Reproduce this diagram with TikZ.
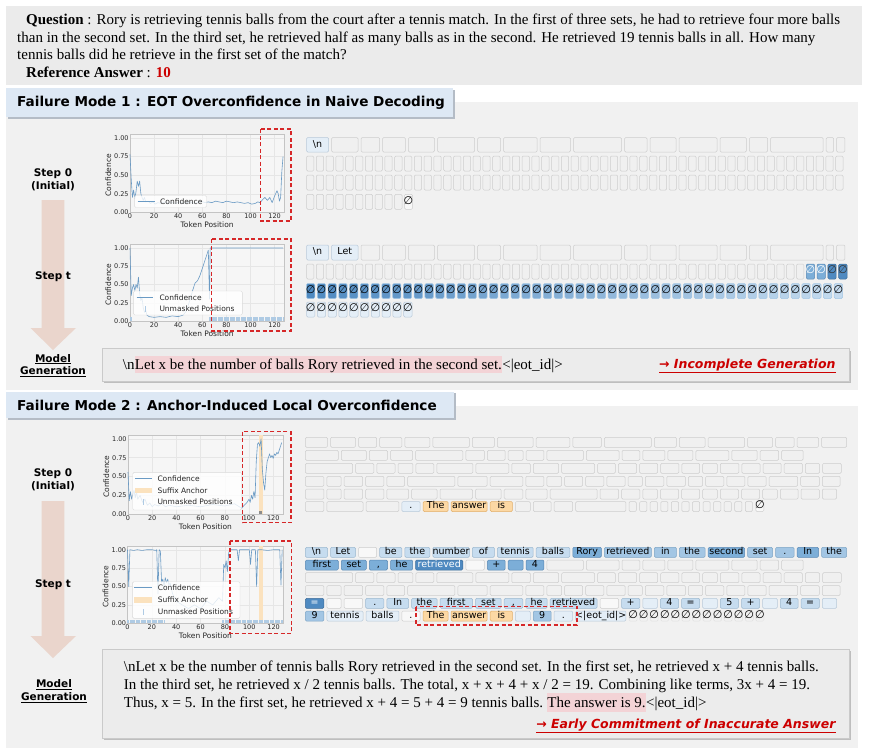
\documentclass[tikz,border=0pt]{standalone}
\usepackage{fontspec}
\setmainfont{Liberation Serif}
\newfontfamily\dejavu{DejaVu Sans}
\usetikzlibrary{positioning}

\definecolor{qbg}{HTML}{EBEBEB}
\definecolor{panelbg}{HTML}{F1F1F1}
\definecolor{headbg}{HTML}{DDE8F4}
\definecolor{headsh}{HTML}{B4BCC6}
\definecolor{arrowc}{HTML}{EAD5CC}
\definecolor{genbg}{HTML}{ECECEC}
\definecolor{genline}{HTML}{CACACA}
\definecolor{gensh}{HTML}{BEBEBE}
\definecolor{hlpink}{HTML}{F3D3D6}
\definecolor{ansred}{HTML}{CC0000}
\definecolor{boxred}{HTML}{D62728}
\definecolor{confblue}{HTML}{6A9AC4}
\definecolor{unmask}{HTML}{AFCBE4}
\definecolor{anchorc}{HTML}{FBE2BE}
\definecolor{axfill}{HTML}{F6F6F6}
\definecolor{axline}{HTML}{C4C4C4}
\definecolor{gridc}{HTML}{E6E6E6}
\definecolor{maskfill}{HTML}{F0F0F0}
\definecolor{maskline}{HTML}{CDCDCD}
\definecolor{tokA}{HTML}{E4EEF7}
\definecolor{tokB}{HTML}{C6DCEF}
\definecolor{tokC}{HTML}{A3C6E4}
\definecolor{tokD}{HTML}{7CAED8}
\definecolor{tokE}{HTML}{4F8AC1}
\definecolor{tokO}{HTML}{FCD8A4}
\definecolor{tokOl}{HTML}{E2AE68}

\tikzset{
  tok/.style={draw=maskline, fill=maskfill, line width=0.5pt, rounded corners=1.2pt,
    inner sep=0pt, outer sep=0pt, anchor=north west, text height=6.8pt, text depth=1.9pt,
    font=\dejavu\fontsize{9.5}{10}\selectfont},
  tkm/.style={},
  tkw/.style={fill=white!55!maskfill, draw=maskline},
  tka/.style={fill=tokA, draw=tokB!80!gray},
  tkb/.style={fill=tokB, draw=tokC!80!gray},
  tkc/.style={fill=tokC, draw=tokD!80!gray},
  tkd/.style={fill=tokD, draw=tokE!80!gray},
  tke/.style={fill=tokE, draw=tokE!80!black, text=white},
  tko/.style={fill=tokO, draw=tokOl},
  tkn/.style={fill=none, draw=maskline!60},
  gridl/.style={draw=gridc, line width=0.4pt},
  axbox/.style={draw=axline, line width=0.5pt},
  ticklab/.style={font=\dejavu\fontsize{6.5}{7}\selectfont, inner sep=1.2pt, text=black!85},
  axlab/.style={font=\dejavu\fontsize{7.5}{8}\selectfont, inner sep=0pt, text=black!85},
  confline/.style={draw=confblue, line width=0.6pt, line join=round},
  unmk/.style={draw=unmask, line width=0.7pt},
  redbox/.style={draw=boxred, line width=1.1pt, dash pattern=on 4pt off 2.5pt},
  legbox/.style={draw=black!15, fill=white, fill opacity=0.8, rounded corners=1.5pt, line width=0.4pt},
  legtxt/.style={font=\dejavu\fontsize{7.5}{8}\selectfont, anchor=west, inner sep=0pt, text=black!85},
  steplab/.style={font=\dejavu\bfseries\fontsize{10.5}{12.7}\selectfont, align=center, inner sep=0pt},
  headtxt/.style={font=\dejavu\bfseries\fontsize{13.6}{15}\selectfont, anchor=west, inner sep=0pt},
  qtxt/.style={font=\fontsize{15}{18}\selectfont, anchor=base west, inner sep=0pt},
  gtxt/.style={font=\fontsize{15}{18}\selectfont, anchor=base west, inner xsep=0pt, inner ysep=0pt,
    text height=12pt, text depth=2pt},
  hl/.style={gtxt, fill=hlpink, inner ysep=1.8pt},
  verdict/.style={font=\dejavu\bfseries\itshape\fontsize{12.5}{13}\selectfont, text=ansred, anchor=east, inner sep=0pt},
}

\newcommand{\tokgap}{3}
\newcommand{\tcomma}{,}
\newcommand{\nulltok}{{\fontsize{11}{11}\selectfont ∅}}

% one row of tokens: x0, top, height, {width/style/text,...}
\newcommand{\tokrow}[4]{%
  \foreach \tw/\ts/\tx [remember=\xn as \xo (initially #1),
      evaluate=\xo as \xn using \xo+\tw+\tokgap] in {#4}
    \node[tok, \ts, minimum width=\tw pt, minimum height=#3 pt] at (\xo,#2) {\makebox[0pt]{\tx}};%
}

% axes of one confidence plot, in data units
\newcommand{\confaxes}{%
  \fill[axfill] (0,0) rectangle (128,1.05);
  \foreach \gx in {0,20,...,120} \draw[gridl] (\gx,0) -- (\gx,1.05);
  \foreach \gy in {0.25,0.5,0.75,1} \draw[gridl] (0,\gy) -- (128,\gy);
  \draw[axbox] (0,0) rectangle (128,1.05);
  \foreach \gx in {0,20,...,120} \node[ticklab, anchor=north] at (\gx,0) {\gx};
  \foreach \gy/\gl in {0/0.00,0.25/0.25,0.5/0.50,0.75/0.75,1/1.00}
    \node[ticklab, anchor=east] at (0,\gy) {\gl};
  \node[axlab] at (64,-0.17) {Token Position};
  \node[axlab, rotate=90] at (-18,0.5) {Confidence};
}

\begin{document}
\begin{tikzpicture}[x=1pt, y=-1pt]
\useasboundingbox (0,0) rectangle (869,755);
\fill[white] (0,0) rectangle (869,755);

% question
\fill[qbg] (6,6) rectangle (862,85);
\node[qtxt] (q1) at (26,24) {\textbf{Question} : Rory is retrieving tennis balls from the court after a tennis match. In the first of three sets, he had to retrieve four more balls};
\node[qtxt] (q2) at (17,42) {than in the second set. In the third set, he retrieved half as many balls as in the second. He retrieved 19 tennis balls in all. How many};
\node[qtxt] (q3) at (17,59.5) {tennis balls did he retrieve in the first set of the match?};
\node[qtxt] (q4) at (26,77.5) {\textbf{Reference Answer} : \textcolor{ansred}{\textbf{10}}};

% ---------------- failure mode 1 ----------------
\fill[panelbg] (6,102) rectangle (858,390);
\fill[headsh] (7.5,89.5) rectangle (454.5,118.5);
\fill[headbg] (6,88) rectangle (453,117);
\node[headtxt] (fm1) at (17,103) {Failure Mode 1 : EOT Overconfidence in Naive Decoding};

\fill[arrowc] (41.7,200) -- (64.3,200) -- (64.3,328) -- (76,328) -- (53,350) -- (30.5,328) -- (41.7,328) -- cycle;
\node[steplab] (s10) at (53,179.5) {Step 0\\(Initial)};
\node[steplab] (s1t) at (53,276.7) {Step t};
\node[steplab] (m1) at (53,365.5) {\underline{Model}\\\underline{Generation}};

% step 0 plot
\begin{scope}[xshift=130pt, yshift=-212.3pt, x=1.205pt, y=74.3pt]
  \confaxes
  \draw[confline] plot coordinates {(0,0.78) (1,0.45) (2,0.2) (3,0.3) (4,0.18) (5,0.28) (6,0.42) (7,0.35)
    (8,0.42) (9,0.25) (10,0.2) (11,0.16) (12,0.2) (13,0.14) (15,0.15) (17,0.12) (19,0.14) (21,0.11)
    (23,0.13) (26,0.12) (29,0.14) (32,0.12) (35,0.13) (38,0.12) (41,0.14) (44,0.12) (47,0.13) (50,0.14)
    (53,0.12) (56,0.13) (59,0.15) (62,0.13) (65,0.14) (68,0.13) (71,0.15) (74,0.14) (77,0.13) (80,0.15)
    (83,0.14) (86,0.13) (89,0.14) (92,0.13) (95,0.12) (98,0.13) (101,0.11) (104,0.12) (106,0.14)
    (108,0.13) (110,0.17) (112,0.2) (114,0.16) (116,0.2) (118,0.13) (120,0.22) (122,0.29) (123,0.25)
    (124,0.15) (125,0.2) (126,0.55) (127,0.75)};
\end{scope}
\draw[legbox] (134.3,195.5) rectangle (206.7,207.5);
\draw[confline] (137.5,201.5) -- (155,201.5);
\node[legtxt] (l1a) at (160,201.5) {Confidence};
\draw[redbox] (260.7,129) rectangle (291,221);

% step t plot
\begin{scope}[xshift=130pt, yshift=-321pt, x=1.205pt, y=73pt]
  \confaxes
  \foreach \u in {0,1,66,67,...,127} \draw[unmk] (\u,0.005) -- (\u,0.05);
  \draw[confline] plot coordinates {(0,1.0) (1,0.35) (2,0.45) (3,0.5) (4,0.42) (5,0.5) (6,0.45) (7,0.6)
    (8,0.38) (9,0.28) (10,0.32) (11,0.18) (12,0.12) (13,0.15) (14,0.08) (16,0.06) (20,0.05) (25,0.06)
    (30,0.05) (35,0.07) (40,0.06) (44,0.08) (46,0.12) (48,0.2) (50,0.3) (52,0.42) (54,0.52) (56,0.55)
    (58,0.62) (60,0.72) (62,0.82) (64,0.92) (65,0.97) (66,0.3) (66.5,1.0) (127,1.0)};
\end{scope}
\draw[legbox] (133.3,291) rectangle (242.3,315);
\draw[confline] (136.7,297.3) -- (153.3,297.3);
\node[legtxt] (l2a) at (159.3,297.3) {Confidence};
\draw[unmk] (145,306) -- (145,312);
\node[legtxt] (l2b) at (159.3,309) {Unmasked Positions};
\draw[redbox] (211.7,239) rectangle (291,331);

% step 0 tokens
\tokrow{306.5}{137.5}{14.5}{22.1/tka/\textbackslash n, 26.4/tkm/{}, 18.6/tkm/{}, 22.8/tkm/{}, 26.1/tkm/{},
  37.2/tkm/{}, 22.8/tkm/{}, 33.6/tkm/{}, 30.4/tkm/{}, 48/tkm/{}, 22.5/tkm/{}, 26/tkm/{}, 38/tkm/{},
  26.4/tkm/{}, 18.2/tkm/{}, 52.6/tkm/{}, 7.4/tkm/{}, 8.3/tkm/{}}
\foreach \i in {0,...,54} {
  \node[tok, minimum width=7.3pt, minimum height=15pt] at (306.5+\i*9.8,156) {};
  \node[tok, minimum width=7.3pt, minimum height=15pt] at (306.5+\i*9.8,175) {};
}
\foreach \i in {0,...,9}
  \node[tok, minimum width=7.3pt, minimum height=15pt] at (306.5+\i*9.8,194.3) {};
\node[tok, tkw, minimum width=8pt, minimum height=15pt] (e1) at (404.5,194.3) {\makebox[0pt]{\nulltok}};

% step t tokens
\tokrow{306.5}{245}{15}{22.1/tka/\textbackslash n, 26.4/tka/Let, 18.6/tkm/{}, 22.8/tkm/{}, 26.1/tkm/{},
  37.2/tkm/{}, 22.8/tkm/{}, 33.6/tkm/{}, 30.4/tkm/{}, 48/tkm/{}, 22.5/tkm/{}, 26/tkm/{}, 38/tkm/{},
  26.4/tkm/{}, 18.2/tkm/{}, 52.6/tkm/{}, 7.4/tkm/{}, 8.3/tkm/{}}
\foreach \i in {0,...,50}
  \node[tok, minimum width=7.3pt, minimum height=15pt] at (306.5+\i*9.8,264) {};
\foreach \i/\ts/\tc in {0/tkd/white, 1/tkd/white, 2/tke/black!80, 3/tke/black!80}
  \node[tok, \ts, text=\tc, minimum width=8.3pt, minimum height=15pt] at (806.3+\i*10.8,264) {\makebox[0pt]{\nulltok}};
\foreach \i [evaluate=\i as \p using 100-2*\i] in {0,...,49}
  \node[tok, fill=tokE!\p!tokB, draw=tokC, minimum width=8.3pt, minimum height=15pt] at (306.5+\i*10.77,283.5) {\makebox[0pt]{\nulltok}};
\foreach \i in {0,...,9}
  \node[tok, tka, minimum width=8.3pt, minimum height=15pt] at (306.5+\i*10.8,302) {\makebox[0pt]{\nulltok}};

% generation
\fill[gensh] (104,350.5) rectangle (851,383);
\draw[genline, fill=genbg] (102,348.5) rectangle (849,381);
\node[gtxt] (g1a) at (122.7,369.5) {\textbackslash n};
\node[hl] (g1b) at (g1a.base east) {Let x be the number of balls Rory retrieved in the second set.};
\node[gtxt] (g1c) at (g1b.base east) {<|eot\_id|>};
\node[verdict] (v1) at (835.7,366) {\underline{→ Incomplete Generation}};

% ---------------- failure mode 2 ----------------
\fill[panelbg] (6,406) rectangle (858,748);
\fill[headsh] (7.5,393.2) rectangle (455.5,419.8);
\fill[headbg] (6,391.7) rectangle (454,418.3);
\node[headtxt] (fm2) at (17,405) {Failure Mode 2 : Anchor-Induced Local Overconfidence};

\fill[arrowc] (41.7,501) -- (64.3,501) -- (64.3,636) -- (76,636) -- (53,658) -- (30.5,636) -- (41.7,636) -- cycle;
\node[steplab] (s20) at (53,479.7) {Step 0\\(Initial)};
\node[steplab] (s2t) at (53,585) {Step t};
\node[steplab] (m2) at (54,691) {\underline{Model}\\\underline{Generation}};

% step 0 plot
\begin{scope}[xshift=128pt, yshift=-514.3pt, x=1.21pt, y=75.5pt]
  \confaxes
  \fill[anchorc] (108.3,0) rectangle (111.5,1.05);
  \foreach \u in {108,109,110} \draw[draw=black!45, line width=0.7pt] (\u+0.5,0.005) -- (\u+0.5,0.05);
  \draw[confline] plot coordinates {(0,0.56) (1,0.18) (2,0.3) (3,0.2) (4,0.26) (5,0.32) (6,0.22) (7,0.3)
    (8,0.2) (10,0.25) (12,0.16) (14,0.2) (16,0.12) (18,0.15) (20,0.1) (22,0.13) (25,0.11) (28,0.14)
    (31,0.1) (34,0.12) (40,0.1) (50,0.12) (60,0.1) (70,0.13) (80,0.11) (88,0.14) (90,0.12) (92,0.1)
    (94,0.08) (96,0.12) (98,0.15) (100,0.2) (101,0.16) (102,0.25) (103,0.2) (104,0.3) (105,0.22)
    (106,0.7) (107,0.93) (108,0.95) (109,0.9) (110,1.0) (111,0.6) (112,0.42) (113,0.32) (114,0.55)
    (115,0.7) (116,0.75) (117,0.8) (118,0.75) (119,0.78) (120,0.74) (121,0.8) (122,0.78) (123,0.82)
    (124,0.8) (125,0.85) (126,0.9) (127,0.95)};
\end{scope}
\draw[legbox] (132.7,472.3) rectangle (241.7,510);
\draw[confline] (135,478.7) -- (151.7,478.7);
\node[legtxt] (l3a) at (157.3,478.7) {Confidence};
\fill[anchorc] (135,487.5) rectangle (151.7,493.3);
\node[legtxt] (l3b) at (157.3,490.3) {Suffix Anchor};
\draw[unmk] (143,499) -- (143,505);
\node[legtxt] (l3c) at (157.3,502) {Unmasked Positions};
\draw[redbox] (242.7,431.7) rectangle (291,522.7);

% step t plot
\begin{scope}[xshift=127.5pt, yshift=-623.3pt, x=1.218pt, y=73.6pt]
  \confaxes
  \fill[anchorc] (108.3,0) rectangle (111.5,1.05);
  \foreach \u in {0,...,30,78,79,...,127} \draw[unmk] (\u,0.005) -- (\u,0.05);
  \draw[confline] plot coordinates {(0,1.0) (1,0.5) (2,1.0) (5,0.99) (8,1.0) (12,0.99) (16,1.0) (20,1.0)
    (23,0.99) (24,1.0) (25,0.4) (26,1.0) (27,0.98) (28,0.55) (29,0.6) (30,0.5) (31,0.62) (32,0.55)
    (33,0.6) (34,0.52) (35,0.55) (37,0.4) (40,0.3) (45,0.25) (50,0.2) (55,0.25) (60,0.2) (65,0.3)
    (70,0.25) (75,0.35) (78,0.3) (79,0.8) (80,0.75) (81,0.85) (82,0.7) (83,0.95) (84,1.0) (90,1.0)
    (91,0.85) (92,1.0) (100,1.0) (101,0.8) (102,1.0) (105,1.0) (106,0.5) (107,1.0) (110,1.0)
    (115,0.99) (120,1.0) (125,1.0) (126,0.52) (127,1.0)};
\end{scope}
\draw[legbox] (132.3,581.7) rectangle (240,618.3);
\draw[confline] (134.3,587.7) -- (151.7,587.7);
\node[legtxt] (l4a) at (157.7,587.7) {Confidence};
\fill[anchorc] (134.3,597) rectangle (151.7,603);
\node[legtxt] (l4b) at (157.7,600) {Suffix Anchor};
\draw[unmk] (143,609) -- (143,615);
\node[legtxt] (l4c) at (157.7,611.7) {Unmasked Positions};
\draw[redbox] (230,541) rectangle (291.7,633.3);

% step 0 tokens
\tokrow{305.4}{437.3}{10}{22.1/tkm/{}, 25/tkm/{}, 18.2/tkm/{}, 22.1/tkm/{}, 25/tkm/{}, 36.5/tkm/{},
  22.1/tkm/{}, 35.8/tkm/{}, 33.6/tkm/{}, 28.6/tkm/{}, 46.9/tkm/{}, 22.1/tkm/{}, 25.7/tkm/{}, 36.5/tkm/{},
  25/tkm/{}, 18.5/tkm/{}, 21.4/tkm/{}, 25.2/tkm/{}}
\tokrow{305.4}{450.3}{10}{32.9/tkm/{}, 25/tkm/{}, 18.2/tkm/{}, 22.1/tkm/{}, 47.2/tkm/{}, 18.6/tkm/{},
  17.8/tkm/{}, 14.9/tkm/{}, 17.8/tkm/{}, 36.5/tkm/{}, 32.6/tkm/{}, 17.8/tkm/{}, 22.1/tkm/{}, 25/tkm/{},
  32.9/tkm/{}, 25.4/tkm/{}, 18.5/tkm/{}, 21.5/tkm/{}}
\tokrow{305.4}{463.3}{10}{47.2/tkm/{}, 18.2/tkm/{}, 18.2/tkm/{}, 14.9/tkm/{}, 17.9/tkm/{}, 36.1/tkm/{},
  32.9/tkm/{}, 18.5/tkm/{}, 25.4/tkm/{}, 32.9/tkm/{}, 17.8/tkm/{}, 18.2/tkm/{}, 18.1/tkm/{}, 18.2/tkm/{},
  17.8/tkm/{}, 14.6/tkm/{}, 18.6/tkm/{}, 18.1/tkm/{}, 18.2/tkm/{}, 18.2/tkm/{}, 14.2/tkm/{}, 18.7/tkm/{}}
\tokrow{305.4}{476.3}{10}{18.5/tkm/{}, 14.2/tkm/{}, 18.6/tkm/{}, 18.2/tkm/{}, 17.8/tkm/{}, 47.2/tkm/{},
  29.3/tkm/{}, 32.6/tkm/{}, 18.1/tkm/{}, 14.7/tkm/{}, 18.1/tkm/{}, 18.2/tkm/{}, 18.2/tkm/{}, 14.2/tkm/{},
  18.5/tkm/{}, 18.6/tkm/{}, 14.2/tkm/{}, 18.2/tkm/{}, 18.1/tkm/{}, 18.2/tkm/{}, 28.6/tkm/{}, 18.6/tkm/{},
  17.9/tkm/{}}
\tokrow{305.4}{489}{10}{18.5/tkm/{}, 14.2/tkm/{}, 18.6/tkm/{}, 18.2/tkm/{}, 21.7/tkm/{}, 25.4/tkm/{},
  32.5/tkm/{}, 25.7/tkm/{}, 18.6/tkm/{}, 21.4/tkm/{}, 46.9/tkm/{}, 18.5/tkm/{}, 18.2/tkm/{}, 14.6/tkm/{},
  18.2/tkm/{}, 18.1/tkm/{}, 14.6/tkm/{}, 18.2/tkm/{}, 18.2/tkm/{}, 14.6/tkm/{}, 17.8/tkm/{}, 18.2/tkm/{},
  14.3/tkm/{}}
\tokrow{305.4}{501.5}{10}{18.5/tkm/{}, 36.1/tkm/{}, 32.9/tkm/{}, 18.2/tka/., 25/tko/The, 36.1/tko/answer,
  22.2/tko/is, 14.9/tkm/{}, 17.8/tkm/{}, 18.6/tkm/{}, 50.2/tkm/{}}
\foreach \i in {0,...,11}
  \node[tok, minimum width=7.2pt, minimum height=10pt] at (629.1+\i*10.56,501.5) {};
\node[tok, tkw, minimum width=8pt, minimum height=10pt] (e2) at (755.8,501.5) {\makebox[0pt]{\nulltok}};

% step t tokens
\tokrow{305.4}{547.3}{10}{22.1/tkb/\textbackslash n, 25/tkb/Let, 18.2/tkw/{}, 22.1/tkb/be, 25/tkb/the,
  36.5/tkb/number, 22.1/tkb/of, 35.8/tkb/tennis, 33.6/tkb/balls, 28.6/tkd/Rory, 46.9/tkc/retrieved,
  22.1/tkc/in, 25.7/tkc/the, 36.5/tkd/second, 25/tkc/set, 18.5/tkc/., 21.4/tkd/In, 25.2/tkc/the}
\tokrow{305.4}{560}{10}{32.9/tkd/first, 25/tkd/set, 18.2/tkd/\tcomma, 22.1/tkd/he, 47.2/tke/retrieved,
  18.6/tkw/{}, 17.8/tkd/+, 14.9/tkd/{}, 17.8/tkd/4, 36.5/tkm/{}, 32.6/tkm/{}, 17.8/tkm/{}, 22.1/tkm/{},
  25/tkm/{}, 32.9/tkm/{}, 25.4/tkm/{}, 18.5/tkm/{}, 21.5/tkm/{}}
\tokrow{305.4}{572.7}{10}{47.2/tkm/{}, 18.2/tkm/{}, 18.2/tkm/{}, 14.9/tkm/{}, 17.9/tkm/{}, 36.1/tkm/{},
  32.9/tkm/{}, 18.5/tkm/{}, 25.4/tkm/{}, 32.9/tkm/{}, 17.8/tkm/{}, 18.2/tkm/{}, 18.1/tkm/{}, 18.2/tkm/{},
  17.8/tkm/{}, 14.6/tkm/{}, 18.6/tkm/{}, 18.1/tkm/{}, 18.2/tkm/{}, 18.2/tkm/{}, 14.2/tkm/{}, 18.7/tkm/{}}
\tokrow{305.4}{585.5}{10}{18.5/tkm/{}, 14.2/tkm/{}, 18.6/tkm/{}, 18.2/tkm/{}, 17.8/tkm/{}, 47.2/tkm/{},
  29.3/tkm/{}, 32.6/tkm/{}, 18.1/tkm/{}, 14.7/tkm/{}, 18.1/tkm/{}, 18.2/tkm/{}, 18.2/tkm/{}, 14.2/tkm/{},
  18.5/tkm/{}, 18.6/tkm/{}, 14.2/tkm/{}, 18.2/tkm/{}, 18.1/tkm/{}, 18.2/tkm/{}, 28.6/tkm/{}, 18.6/tkm/{},
  17.9/tkm/{}}
\tokrow{305.4}{598.3}{10}{18.5/tke/=, 14.2/tkw/{}, 18.6/tkw/{}, 18.2/tkb/., 21.7/tkb/In, 25.4/tkb/the,
  32.5/tkb/first, 25.7/tkb/set, 18.6/tkb/\tcomma, 21.4/tkb/he, 46.9/tkb/retrieved, 18.5/tkw/{},
  18.2/tkb/+, 14.6/tka/{}, 18.2/tkb/4, 18.1/tkb/=, 14.6/tka/{}, 18.2/tkb/5, 18.2/tkb/+, 14.6/tka/{},
  17.8/tkb/4, 18.2/tkb/=, 14.3/tka/{}}
\tokrow{305.4}{611}{10}{18.5/tkc/9, 36.1/tka/tennis, 32.9/tka/balls, 18.2/tkw/., 25/tko/The,
  36.1/tko/answer, 22.2/tko/is, 14.9/tka/{}, 17.8/tkc/9, 18.6/tka/., 50.2/tka/<|eot\_id|>}
\foreach \i in {0,...,12}
  \node[tok, tkn, minimum width=8pt, minimum height=10pt] at (629.1+\i*10.56,611) {\makebox[0pt]{\nulltok}};
\draw[redbox] (416,606.7) rectangle (577,625);

% generation
\fill[gensh] (104,651.3) rectangle (851,740.3);
\draw[genline, fill=genbg] (102,649.3) rectangle (849,738.3);
\node[gtxt] (g2a) at (123.7,671) {\textbackslash nLet x be the number of tennis balls Rory retrieved in the second set. In the first set, he retrieved x + 4 tennis balls.};
\node[gtxt] (g2b) at (123.7,689.5) {In the third set, he retrieved x / 2 tennis balls. The total, x + x + 4 + x / 2 = 19. Combining like terms, 3x + 4 = 19.};
\node[gtxt] (g2c) at (123.7,707.5) {Thus, x = 5. In the first set, he retrieved x + 4 = 5 + 4 = 9 tennis balls.\kern3.75pt};
\node[hl, inner ysep=2.5pt] (g2d) at (g2c.base east) {The answer is 9.};
\node[gtxt] (g2e) at (g2d.base east) {<|eot\_id|>};
\node[verdict] (v2) at (835.7,726) {\underline{→ Early Commitment of Inaccurate Answer}};
\end{tikzpicture}
\end{document}
